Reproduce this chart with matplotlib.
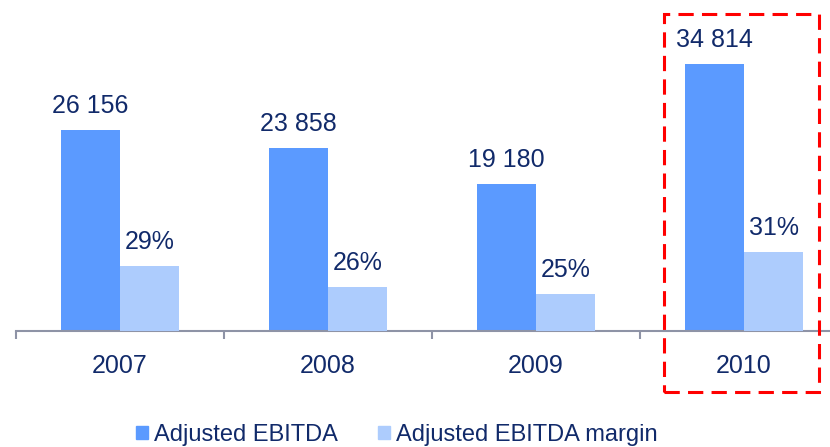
import numpy as np
import matplotlib
matplotlib.use('Agg')
import matplotlib.pyplot as plt
from matplotlib.patches import Patch, Rectangle
from matplotlib.transforms import blended_transform_factory

plt.rcParams['font.family'] = ['Liberation Sans', 'DejaVu Sans']

years = ['2007', '2008', '2009', '2010']
ebitda = [26156, 23858, 19180, 34814]
margin = [29, 26, 25, 31]
ebitda_labels = ['26 156', '23 858', '19 180', '34 814']
margin_labels = ['29%', '26%', '25%', '31%']
series_names = ['Adjusted EBITDA', 'Adjusted EBITDA margin']

DARK = '#5b9aff'
LIGHT = '#adccfd'
TEXT = '#112a6a'
AXIS = '#8e93a6'

W, H = 830, 447
fig = plt.figure(figsize=(W / 100, H / 100), dpi=100)
ax = fig.add_axes([16 / W, 116 / H, 832 / W, 331 / H])
ax2 = ax.twinx()

x = np.arange(len(years))
bw = 0.285
ax.bar(x - bw / 2, ebitda, bw, color=DARK, zorder=2)
ax2.bar(x + bw / 2, margin, bw, color=LIGHT, zorder=2, bottom=0)

ax.set_xlim(-0.5, 3.5)
ax.set_ylim(0, 331 * 130.2)
ax2.set_ylim(19.66, 67.24)

for a in (ax, ax2):
    for s in ('top', 'right', 'left'):
        a.spines[s].set_visible(False)
    a.set_yticks([])
ax2.spines['bottom'].set_visible(False)
ax.spines['bottom'].set_color(AXIS)
ax.spines['bottom'].set_linewidth(1.5)
ax.set_xticks(np.arange(-0.5, 4, 1))
ax.set_xticklabels([])
ax.tick_params(axis='x', length=5.8, width=1.5, color=AXIS, direction='out')

for i in x:
    ax.annotate(ebitda_labels[i], (i - bw / 2, ebitda[i]), xytext=(0, 12.2),
                textcoords='offset points', ha='center', va='baseline',
                fontsize=18, color=TEXT)
    ax2.annotate(margin_labels[i], (i + bw / 2, margin[i]), xytext=(0, 12.2),
                 textcoords='offset points', ha='center', va='baseline',
                 fontsize=18, color=TEXT)

tr = blended_transform_factory(ax.transData, ax.transAxes)
for i, yr in enumerate(years):
    ax.annotate(yr, (i, 0), xycoords=tr, xytext=(0, -30.2),
                textcoords='offset points', ha='center', va='baseline',
                fontsize=18, color=TEXT, annotation_clip=False)

# highlight box around the last year
box = Rectangle((3 - 0.385, -0.184), 0.745, 1.142, transform=tr,
                fill=False, edgecolor='#ff0000', linewidth=2.2,
                linestyle=(0, (5, 2.7)), clip_on=False, zorder=5)
ax.add_patch(box)

handles = [Patch(color=DARK), Patch(color=LIGHT)]
fig.legend(handles, series_names, loc='center', ncol=2, frameon=False,
           bbox_to_anchor=(397 / W, 12 / H), fontsize=17,
           handlelength=0.5, handleheight=0.5, handletextpad=0.25,
           columnspacing=1.7, labelcolor=TEXT)

fig.savefig('out.png', dpi=100)
